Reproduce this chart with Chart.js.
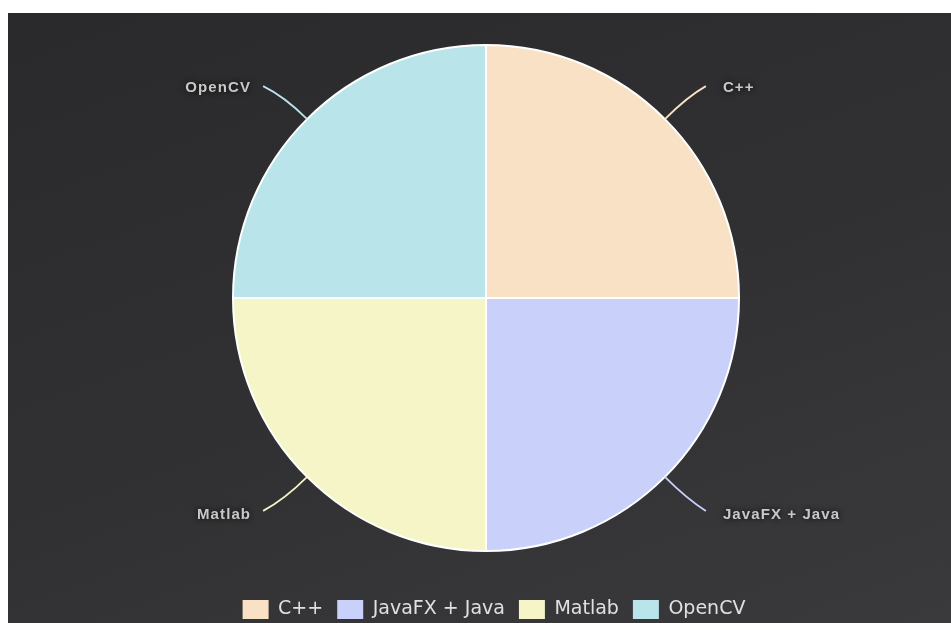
<!DOCTYPE html>
<html><head><meta charset="utf-8">
<script src="https://cdn.jsdelivr.net/npm/chart.js@4/dist/chart.umd.min.js"></script>
<style>
html,body{margin:0;padding:0;background:#fff;overflow:hidden;}
#wrap{position:absolute;left:8px;top:13px;width:943px;height:610px;overflow:hidden;
background:linear-gradient(160deg,#2a2a2c 0%,#303032 50%,#3a3a3c 100%);}
canvas{display:block;position:absolute;left:0;top:0;}
</style></head><body>
<div id="wrap"><canvas id="c" width="943" height="619"></canvas></div>
<script>
const categories = ["C++", "JavaFX + Java", "Matlab", "OpenCV"];
const values = [25, 25, 25, 25];
const sliceColors = ["#f9e1c5", "#c9d1fb", "#f5f5c7", "#b9e5ea"];

const outLabels = {
  id: 'outLabels',
  afterLayout(chart) {
    const lg = chart.legend;
    if (lg) { lg.left += 8; lg.right += 8; }
  },
  afterDatasetsDraw(chart) {
    const ctx = chart.ctx;
    const meta = chart.getDatasetMeta(0);
    meta.data.forEach((arc, i) => {
      const p = arc.getProps(['x','y','startAngle','endAngle','outerRadius'], true);
      const mid = (p.startAngle + p.endAngle) / 2;
      const cx = Math.cos(mid), cy = Math.sin(mid);
      const sx = p.x + cx * p.outerRadius, sy = p.y + cy * p.outerRadius;
      const right = cx >= 0;
      const ex = sx + (right ? 41 : -44), ey = sy + (cy < 0 ? -33 : 34);
      const ctrlx = sx + cx * 32, ctrly = sy + cy * 32;
      ctx.save();
      ctx.strokeStyle = sliceColors[i];
      ctx.lineWidth = 1.8;
      ctx.beginPath();
      ctx.moveTo(sx, sy);
      ctx.quadraticCurveTo(ctrlx, ctrly, ex, ey);
      ctx.stroke();
      ctx.font = 'bold 15px "Liberation Sans", Arial, sans-serif';
      ctx.letterSpacing = '1.1px';
      ctx.textBaseline = 'middle';
      ctx.fillStyle = '#c8c8c8';
      ctx.shadowColor = 'rgba(0,0,0,0.9)';
      ctx.shadowBlur = 6;
      const txt = categories[i];
      const w = ctx.measureText(txt).width;
      const tx = right ? ex + 17 : ex - 12 - w;
      ctx.textAlign = 'left';
      ctx.fillText(txt, tx, ey + (cy < 0 ? 2 : 4));
      ctx.restore();
    });
  }
};

new Chart(document.getElementById('c'), {
  type: 'pie',
  data: {
    labels: categories,
    datasets: [{
      data: values,
      backgroundColor: sliceColors,
      borderColor: '#ffffff',
      borderWidth: 2
    }]
  },
  options: {
    responsive: false,
    animation: false,
    layout: { padding: { top: 31, bottom: 3, left: 13, right: 0 } },
    plugins: {
      tooltip: { enabled: false },
      legend: {
        position: 'bottom',
        title: { display: true, text: ' ', font: { size: 10 }, padding: { top: 0, bottom: 22 } },
        labels: {
          color: '#e0e0e0',
          boxWidth: 26,
          boxHeight: 19,
          padding: 14,
          font: { family: '"DejaVu Sans"', size: 19 },
          generateLabels(chart) {
            return Chart.overrides.pie.plugins.legend.labels.generateLabels(chart)
              .map(l => Object.assign(l, { lineWidth: 0, strokeStyle: 'rgba(0,0,0,0)' }));
          }
        }
      }
    }
  },
  plugins: [outLabels]
});
</script>
</body></html>
